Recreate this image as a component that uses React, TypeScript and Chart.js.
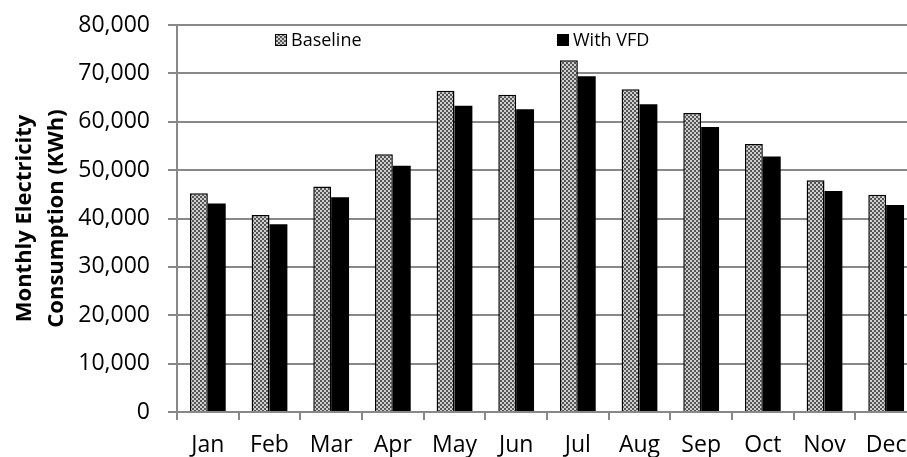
import React, { useEffect, useRef } from "react";
import { Chart, registerables } from "chart.js";

Chart.register(...registerables);

const months = ["Jan", "Feb", "Mar", "Apr", "May", "Jun", "Jul", "Aug", "Sep", "Oct", "Nov", "Dec"];
const baselineValues = [45200, 40700, 46600, 53300, 66400, 65600, 72700, 66700, 61800, 55400, 47900, 44900];
const vfdValues = [43100, 38800, 44400, 50900, 63300, 62600, 69400, 63600, 58900, 52800, 45700, 42800];
const seriesLabels = ["Baseline", "With VFD"];
const yTitleLines = ["Monthly Electricity", "Consumption (KWh)"];
const yMin = 0;
const yMax = 80000;
const yStep = 10000;

function makePattern(): CanvasPattern | string {
  const c = document.createElement("canvas");
  c.width = 4;
  c.height = 4;
  const g = c.getContext("2d");
  if (!g) return "#929292";
  g.fillStyle = "#d0d0d0";
  g.fillRect(0, 0, 4, 4);
  g.fillStyle = "#555555";
  g.fillRect(0, 0, 2, 2);
  g.fillRect(2, 2, 2, 2);
  const p = g.createPattern(c, "repeat");
  return p || "#929292";
}

export default function App() {
  const ref = useRef<HTMLCanvasElement | null>(null);

  useEffect(() => {
    if (!ref.current) return;
    const pattern = makePattern();
    const FONT = "'Open Sans', 'DejaVu Sans', sans-serif";

    const legendPlugin = {
      id: "customLegend",
      afterDraw(chart: any) {
        const ctx = chart.ctx;
        const area = chart.chartArea;
        const xs = [area.left + 98, area.left + 380];
        const yc = 32;
        ctx.save();
        ctx.font = `18px ${FONT}`;
        ctx.textBaseline = "middle";
        ctx.textAlign = "left";
        chart.data.datasets.forEach((ds: any, i: number) => {
          const x = xs[i];
          ctx.fillStyle = ds.backgroundColor;
          ctx.fillRect(x, yc - 6, 12, 12);
          ctx.strokeStyle = "#000";
          ctx.lineWidth = 1;
          ctx.strokeRect(x + 0.5, yc - 5.5, 11, 11);
          ctx.fillStyle = "#000";
          ctx.fillText(ds.label, x + 16, yc + 1);
        });
        ctx.restore();
      },
    };

    const chart = new Chart(ref.current, {
      type: "bar",
      data: {
        labels: months,
        datasets: [
          {
            label: seriesLabels[0],
            data: baselineValues,
            backgroundColor: pattern as any,
            borderColor: "#000000",
            borderWidth: 1.5,
            categoryPercentage: 0.58,
            barPercentage: 1.0,
          },
          {
            label: seriesLabels[1],
            data: vfdValues,
            backgroundColor: "#000000",
            borderColor: "#000000",
            borderWidth: 0,
            categoryPercentage: 0.58,
            barPercentage: 1.0,
          },
        ],
      },
      options: {
        responsive: false,
        animation: false,
        devicePixelRatio: 1,
        layout: { padding: { top: 17, right: 3, left: 0, bottom: 0 } },
        plugins: {
          legend: { display: false },
          tooltip: { enabled: false },
        },
        scales: {
          x: {
            offset: true,
            grid: {
              display: true,
              drawOnChartArea: false,
              drawTicks: true,
              tickLength: 8,
              color: "#888888",
              lineWidth: 2,
              offset: true,
            },
            border: { display: true, color: "#888888", width: 2 },
            ticks: {
              color: "#000000",
              font: { family: FONT, size: 23 },
              padding: 12,
              maxRotation: 0,
              autoSkip: false,
            },
            afterFit(scale: any) {
              scale.height = 45;
              scale.paddingLeft = 0;
              scale.paddingRight = 0;
            },
          },
          y: {
            min: yMin,
            max: yMax,
            grid: {
              color: "#888888",
              lineWidth: 2,
              drawTicks: true,
              tickLength: 9,
            },
            border: { display: true, color: "#888888", width: 2 },
            ticks: {
              stepSize: yStep,
              color: "#000000",
              font: { family: FONT, size: 23 },
              padding: 18,
              callback: (v: any) => Number(v).toLocaleString("en-US"),
            },
            title: {
              display: true,
              text: yTitleLines,
              color: "#000000",
              font: { family: FONT, size: 22, weight: "bold", lineHeight: 1.45 },
              padding: { top: 1, bottom: 0 },
            },
            afterFit(scale: any) {
              scale.width = 169;
              scale.paddingTop = 0;
              scale.paddingBottom = 0;
            },
          },
        },
      },
      plugins: [legendPlugin],
    });

    return () => chart.destroy();
  }, []);

  return (
    <div
      style={{
        position: "fixed",
        top: 8,
        left: 8,
        width: 899,
        height: 449,
        overflow: "hidden",
        background: "#ffffff",
      }}
    >
      <canvas ref={ref} width={912} height={449} style={{ display: "block" }} />
    </div>
  );
}
